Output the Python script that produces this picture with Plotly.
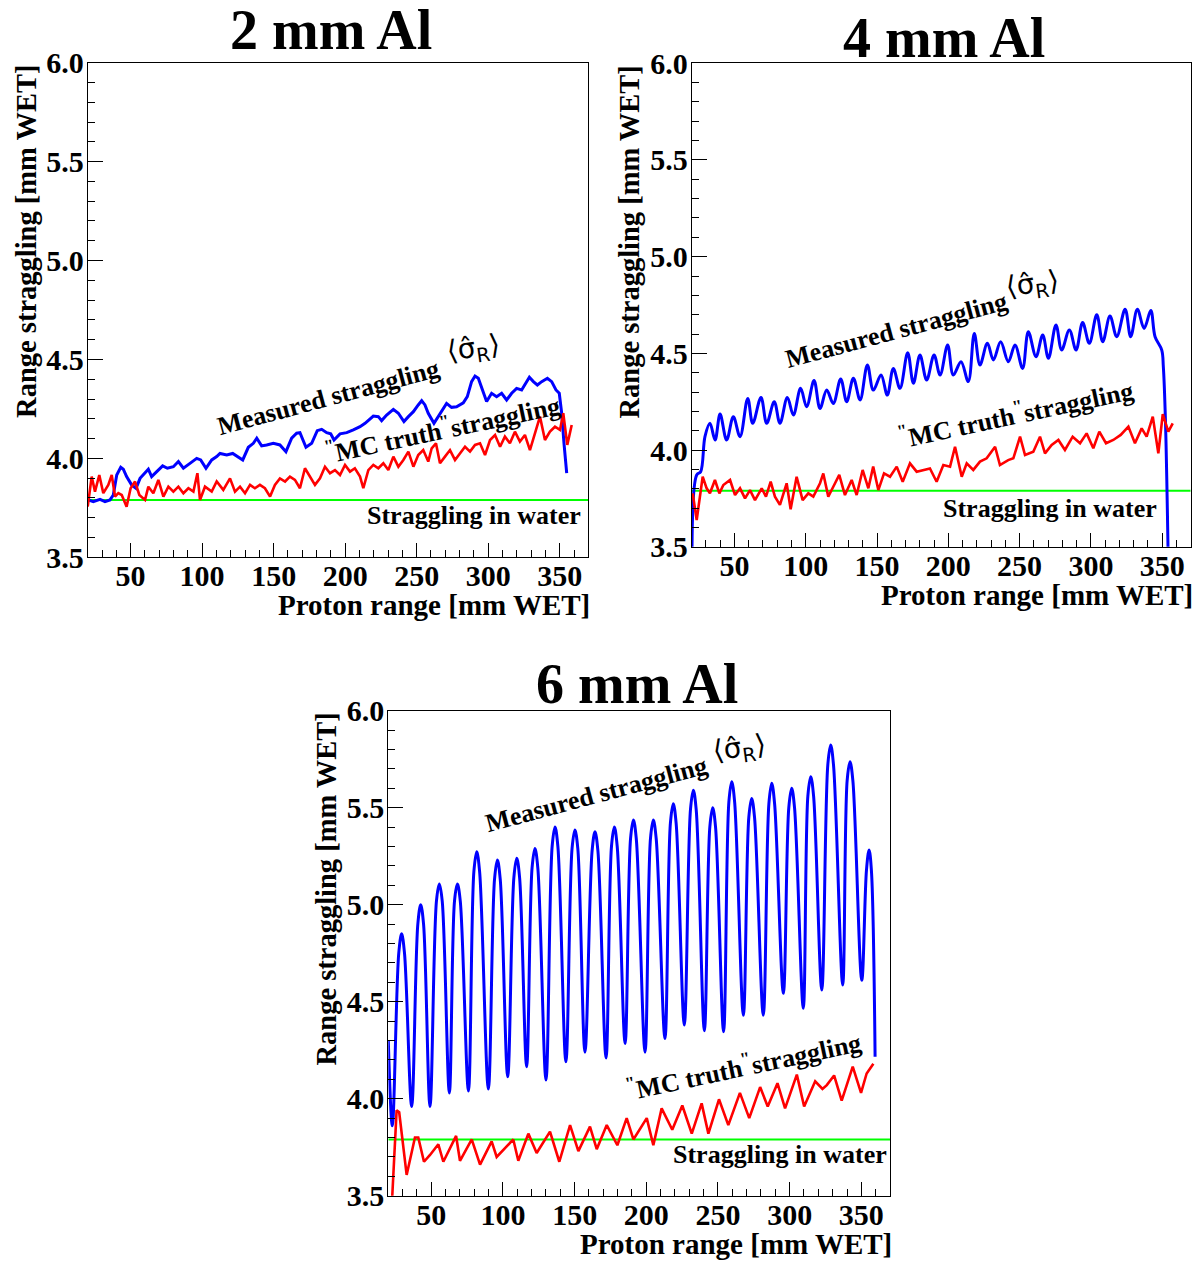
import plotly.graph_objects as go

# ---------------- data ----------------
panel_titles = ["2 mm Al", "4 mm Al", "6 mm Al"]
water_straggling = 3.79
x_ticks = [50, 100, 150, 200, 250, 300, 350]
y_ticks = [3.5, 4.0, 4.5, 5.0, 5.5, 6.0]

# 2 mm Al
al2_meas_x = [20.4, 23.9, 28.6, 32.1, 35.6, 37.9, 40.3, 43.1, 44.9, 47.2, 50.7, 53.8, 56.6, 58.9, 62.4, 64.7,
              68.2, 72.4, 75.7, 79.9, 83.4, 86.9, 91.5, 96.2, 99.0, 102.7, 106.7, 110.2, 112.5, 117.2, 121.4,
              125.3, 128.4, 132.3, 135.8, 138.2, 141.6, 145.1, 149.8, 154.4, 158.6, 162.6, 166.1, 168.4, 170.8,
              172.6, 176.6, 180.5, 183.6, 187.1, 189.9, 192.2, 196.4, 201.1, 205.7, 210.4, 213.9, 217.4, 219.7,
              223.2, 225.5, 229.0, 233.7, 237.2, 241.1, 244.2, 247.7, 251.1, 253.5, 255.8, 258.1, 262.1, 265.1,
              268.6, 270.9, 274.4, 277.9, 282.6, 285.4, 288.4, 290.8, 293.1, 295.4, 298.9, 302.4, 305.9, 309.4,
              312.9, 316.4, 319.9, 323.4, 328.8, 331.6, 334.4, 337.4, 341.4, 344.4, 347.4, 349.7, 351.4, 353.0,
              354.9]
al2_meas_y = [3.790, 3.781, 3.793, 3.781, 3.790, 3.815, 3.916, 3.955, 3.945, 3.908, 3.866, 3.849, 3.899, 3.916,
              3.945, 3.908, 3.933, 3.962, 3.950, 3.958, 3.984, 3.950, 3.975, 4.000, 3.992, 3.950, 3.992, 4.009,
              4.025, 4.017, 4.025, 4.009, 3.992, 4.056, 4.076, 4.102, 4.063, 4.068, 4.076, 4.068, 4.034, 4.102,
              4.127, 4.130, 4.085, 4.056, 4.076, 4.140, 4.147, 4.130, 4.124, 4.093, 4.124, 4.130, 4.144, 4.160,
              4.177, 4.197, 4.214, 4.211, 4.191, 4.219, 4.248, 4.228, 4.186, 4.211, 4.236, 4.270, 4.292, 4.270,
              4.228, 4.177, 4.211, 4.245, 4.278, 4.258, 4.261, 4.281, 4.312, 4.388, 4.416, 4.405, 4.354, 4.287,
              4.329, 4.312, 4.329, 4.295, 4.329, 4.354, 4.346, 4.410, 4.388, 4.371, 4.388, 4.405, 4.388, 4.346,
              4.329, 4.228, 4.076, 3.925]
al2_mc_x = [20.0, 22.8, 25.1, 28.1, 30.9, 34.4, 36.8, 39.1, 41.4, 43.8, 47.2, 50.0, 53.1, 56.1, 60.1, 62.4, 65.9,
            69.4, 72.9, 76.4, 79.9, 83.4, 86.9, 90.4, 93.9, 96.7, 98.5, 102.0, 106.7, 110.2, 114.8, 119.5, 123.0,
            126.5, 130.0, 133.5, 136.9, 140.4, 143.9, 147.5, 150.9, 154.4, 158.0, 161.4, 164.9, 168.4, 171.9,
            175.4, 178.9, 182.4, 185.9, 189.4, 192.9, 196.4, 199.9, 203.4, 206.8, 210.4, 212.7, 216.2, 219.7,
            223.2, 226.7, 230.2, 233.7, 237.2, 240.7, 244.2, 247.7, 251.1, 254.6, 258.1, 260.5, 263.5, 266.3,
            269.8, 273.3, 276.8, 280.3, 283.8, 287.3, 290.8, 294.3, 297.8, 301.3, 304.8, 308.3, 311.7, 315.2,
            318.7, 322.2, 325.7, 329.2, 332.7, 336.2, 339.7, 343.2, 346.7, 350.2, 352.5, 355.3, 358.4]
al2_mc_y = [3.756, 3.908, 3.832, 3.916, 3.824, 3.866, 3.916, 3.807, 3.824, 3.815, 3.756, 3.849, 3.883, 3.815,
            3.790, 3.857, 3.824, 3.891, 3.807, 3.857, 3.832, 3.857, 3.824, 3.849, 3.832, 3.925, 3.790, 3.857,
            3.832, 3.883, 3.841, 3.899, 3.832, 3.857, 3.824, 3.866, 3.849, 3.866, 3.849, 3.807, 3.866, 3.899,
            3.883, 3.908, 3.891, 3.849, 3.950, 3.908, 3.866, 3.899, 3.958, 3.925, 3.941, 3.916, 3.967, 3.933,
            3.950, 3.908, 3.849, 3.941, 3.967, 3.950, 3.975, 3.941, 4.009, 3.958, 3.992, 4.034, 3.958, 4.017,
            4.042, 3.984, 4.051, 4.076, 3.975, 4.009, 4.042, 3.992, 4.025, 4.059, 4.034, 4.068, 4.076, 4.017,
            4.093, 4.118, 4.059, 4.110, 4.076, 4.135, 4.085, 4.118, 4.042, 4.127, 4.211, 4.093, 4.135, 4.160,
            4.144, 4.228, 4.068, 4.169]

# 4 mm Al
al4_meas_x = [20.2, 23.5, 26.3, 29.3, 32.8, 36.4, 39.9, 44.5, 49.2, 53.9, 59.3, 62.8, 68.6, 72.6, 77.9, 81.9,
              87.1, 91.3, 96.4, 100.6, 105.8, 110.0, 114.7, 119.3, 124.5, 128.7, 133.4, 138.1, 143.2, 147.4,
              152.8, 157.2, 161.4, 166.1, 171.5, 175.5, 180.1, 184.8, 190.0, 194.2, 199.5, 203.5, 208.9, 214.0,
              218.2, 222.2, 227.4, 231.6, 236.7, 242.1, 246.8, 252.1, 256.1, 261.5, 266.2, 270.2, 275.5, 279.5,
              284.9, 289.6, 294.2, 298.9, 304.1, 308.3, 313.4, 318.1, 324.0, 327.9, 332.6, 337.3, 342.0, 345.0,
              349.7, 350.8, 352.3, 354.3]
al4_meas_y = [3.40, 3.871, 3.888, 4.069, 4.138, 4.052, 4.186, 4.052, 4.172, 4.069, 4.267, 4.138, 4.272, 4.138,
              4.250, 4.138, 4.272, 4.181, 4.319, 4.224, 4.359, 4.215, 4.310, 4.241, 4.367, 4.250, 4.371, 4.259,
              4.440, 4.310, 4.388, 4.284, 4.422, 4.319, 4.503, 4.345, 4.491, 4.362, 4.491, 4.388, 4.543, 4.388,
              4.457, 4.354, 4.603, 4.440, 4.552, 4.466, 4.560, 4.457, 4.543, 4.422, 4.612, 4.483, 4.595, 4.474,
              4.647, 4.517, 4.621, 4.517, 4.659, 4.552, 4.699, 4.560, 4.693, 4.586, 4.728, 4.586, 4.728, 4.629,
              4.721, 4.586, 4.517, 4.431, 4.150, 3.40]
al4_mc_x = [20.7, 23.5, 27.7, 30.5, 32.8, 36.3, 39.4, 42.2, 46.9, 50.4, 53.9, 57.4, 60.9, 64.4, 69.1, 72.1, 75.4,
            78.4, 81.9, 86.6, 89.4, 93.6, 97.8, 101.8, 105.3, 110.0, 112.3, 115.8, 119.3, 123.5, 127.5, 132.2,
            135.7, 139.9, 143.9, 147.3, 150.9, 154.9, 159.1, 163.8, 168.0, 173.1, 177.8, 182.5, 187.1, 191.8,
            196.5, 201.2, 204.7, 209.4, 212.9, 217.5, 222.2, 226.9, 232.8, 236.2, 242.0, 245.6, 250.3, 253.8,
            259.6, 264.3, 267.8, 272.5, 277.2, 281.8, 287.2, 292.4, 297.0, 301.7, 305.9, 310.6, 315.7, 320.9,
            326.3, 330.9, 335.6, 339.1, 343.4, 347.3, 350.4, 354.3, 357.4]
al4_mc_y = [3.776, 3.638, 3.862, 3.802, 3.776, 3.845, 3.776, 3.819, 3.845, 3.767, 3.802, 3.750, 3.793, 3.741,
            3.802, 3.759, 3.836, 3.759, 3.716, 3.828, 3.694, 3.862, 3.741, 3.776, 3.759, 3.828, 3.879, 3.759,
            3.810, 3.871, 3.767, 3.845, 3.767, 3.897, 3.802, 3.914, 3.793, 3.879, 3.862, 3.914, 3.836, 3.931,
            3.888, 3.897, 3.905, 3.836, 3.922, 3.914, 4.017, 3.862, 3.931, 3.897, 3.940, 3.957, 4.017, 3.922,
            3.948, 3.957, 4.069, 3.974, 3.991, 4.069, 3.983, 4.026, 4.052, 4.000, 4.069, 4.035, 4.086, 4.009,
            4.095, 4.035, 4.052, 4.078, 4.121, 4.035, 4.112, 4.069, 4.173, 3.983, 4.186, 4.095, 4.138]

# 6 mm Al
al6_meas_x = [20.0, 22.8,
              27.3, 29.3, 31.3, 36.3, 40.6, 42.6, 44.6, 49.1, 53.6, 55.6, 57.6, 62.6, 66.2, 68.2, 70.2, 75.9,
              79.7, 81.7, 83.7, 89.8, 94.1, 96.1, 98.1, 103.3, 107.6, 109.6, 111.6, 116.5, 120.3, 122.3, 124.3,
              130.0, 134.3, 136.3, 138.3, 143.9, 148.2, 150.2, 152.2, 157.2, 162.2, 164.2, 166.2, 171.9, 175.7,
              177.7, 179.7, 185.2, 189.0, 191.0, 193.0, 199.1, 202.9, 204.9, 206.9, 213.0, 216.8, 218.8, 220.8,
              226.5, 230.8, 232.8, 234.8, 240.5, 244.3, 246.3, 248.3, 253.9, 257.6, 259.6, 261.6, 267.7, 271.5,
              273.5, 275.5, 281.6, 285.5, 287.5, 289.5, 295.6, 299.4, 301.4, 303.4, 309.5, 312.7, 314.7, 316.7,
              322.4, 326.6, 328.6, 330.6, 337.0, 340.1, 342.1, 344.1, 350.3, 353.6, 355.4, 357.0, 359.6]
al6_meas_y = [4.30, 3.86,
              4.75, 4.85, 4.75, 3.96, 4.90, 5.00, 4.90, 3.96, 5.02, 5.107, 5.02, 4.03, 5.02, 5.107, 5.02, 4.04,
              5.17, 5.273, 5.17, 4.05, 5.13, 5.23, 5.13, 4.113, 5.14, 5.24, 5.14, 4.165, 5.19, 5.29, 5.19,
              4.096, 5.30, 5.40, 5.30, 4.19, 5.29, 5.385, 5.29, 4.24, 5.28, 5.376, 5.28, 4.21, 5.30,
              5.40, 5.30, 4.285, 5.34, 5.436, 5.34, 4.24, 5.34, 5.436, 5.34, 4.31, 5.42, 5.52, 5.42,
              4.38, 5.49, 5.59, 5.49, 4.35, 5.40, 5.50, 5.40, 4.345, 5.53, 5.634, 5.53, 4.43, 5.45,
              5.548, 5.45, 4.43, 5.52, 5.626, 5.52, 4.543, 5.50, 5.60, 5.50, 4.466, 5.56, 5.66, 5.56,
              4.56, 5.72, 5.823, 5.72, 4.586, 5.64, 5.737, 5.64, 4.61, 5.18, 5.282, 5.18, 4.216]
al6_mc_x = [21.2, 22.3, 25.8, 27.6, 32.8, 38.6, 40.9, 44.9, 49.1, 54.9, 58.4, 67.3, 70.0, 78.2, 84.0, 92.1, 95.6,
            107.2, 110.7, 117.7, 123.5, 132.8, 139.3, 146.8, 152.6, 160.7, 165.4, 172.4, 179.8, 186.3, 191.0,
            200.3, 204.9, 210.7, 218.1, 225.1, 231.7, 238.6, 243.3, 250.7, 257.2, 265.3, 271.8, 279.4, 284.7,
            291.5, 296.8, 305.0, 310.1, 317.8, 322.9, 325.9, 331.0, 336.3, 344.0, 349.8, 353.7, 358.4]
al6_mc_y = [3.20, 3.43, 3.94, 3.93, 3.607, 3.80, 3.80, 3.675, 3.71, 3.765, 3.675, 3.808, 3.68, 3.79, 3.66, 3.78,
            3.70, 3.79, 3.68, 3.82, 3.72, 3.83, 3.675, 3.864, 3.73, 3.856, 3.74, 3.864, 3.76, 3.90, 3.79, 3.90,
            3.76, 3.95, 3.84, 3.965, 3.82, 3.976, 3.82, 3.997, 3.864, 4.03, 3.90, 4.06, 3.96, 4.08, 3.95, 4.124,
            3.96, 4.09, 4.05, 4.07, 4.12, 3.99, 4.165, 4.03, 4.13, 4.18]

# ---------------- figure ----------------
W, H = 1200, 1261
OFF = 8  # page body offset compensation (px)
SERIF = "Liberation Serif"
BLUE, RED, GREEN = "#0000ff", "#ff0000", "#00ff00"


def px_x(px):
    return (px - OFF) / W


def px_y(py):
    return 1 - (py - OFF) / H


# plot frames in target pixels: (left, right, top, bottom)
frames = [(87.7, 588.3, 62.7, 557.3), (691.7, 1190.7, 63.3, 546.7), (388.3, 890.0, 710.7, 1195.7)]

fig = go.Figure()
layout = dict(width=W, height=H, margin=dict(l=0, r=0, t=0, b=0, pad=0, autoexpand=False),
              paper_bgcolor="white", plot_bgcolor="white", showlegend=False)

meas = [(al2_meas_x, al2_meas_y, "linear"), (al4_meas_x, al4_meas_y, "spline"), (al6_meas_x, al6_meas_y, "spline")]
mc = [(al2_mc_x, al2_mc_y), (al4_mc_x, al4_mc_y), (al6_mc_x, al6_mc_y)]

annotations = []
for i, (l, r, t, b) in enumerate(frames):
    sfx = "" if i == 0 else str(i + 1)
    xa, ya = "x" + sfx, "y" + sfx
    layout["xaxis" + sfx] = dict(
        domain=[px_x(l), px_x(r)], anchor=ya, range=[20, 370], tickvals=x_ticks, ticks="inside", ticklen=14,
        tickcolor="black", showline=True, linecolor="black", linewidth=1, mirror=True, showgrid=False,
        zeroline=False, automargin=False, ticklabelstandoff=-8,
        tickfont=dict(family=SERIF, size=30, color="black", weight="bold"),
        minor=dict(ticks="inside", dtick=10, tick0=0, ticklen=7, tickcolor="black", showgrid=False))
    layout["yaxis" + sfx] = dict(
        domain=[px_y(b), px_y(t)], anchor=xa, range=[3.5, 6.0], tickvals=y_ticks, tickformat=".1f",
        ticks="inside", ticklen=15, tickcolor="black", showline=True, linecolor="black", linewidth=1,
        mirror=True, showgrid=False, zeroline=False, automargin=False, ticklabelstandoff=-3,
        tickfont=dict(family=SERIF, size=30, color="black", weight="bold"),
        minor=dict(ticks="inside", dtick=0.1, tick0=0, ticklen=7, tickcolor="black", showgrid=False))

    # water line
    fig.add_trace(go.Scatter(x=[20, 370], y=[water_straggling, water_straggling], mode="lines",
                             line=dict(color=GREEN, width=2), xaxis=xa, yaxis=ya, hoverinfo="skip"))
    mx, my, shp = meas[i]
    fig.add_trace(go.Scatter(x=mx, y=my, mode="lines",
                             line=dict(color=BLUE, width=3, shape=shp, smoothing=1.0),
                             xaxis=xa, yaxis=ya, cliponaxis=True))
    cx, cy = mc[i]
    fig.add_trace(go.Scatter(x=cx, y=cy, mode="lines", line=dict(color=RED, width=2.6),
                             xaxis=xa, yaxis=ya, cliponaxis=True))

    # axis titles
    annotations.append(dict(text="<b>Proton range [mm WET]</b>", xref="paper", yref="paper",
                            x=px_x(r + 4), y=px_y(b + 48), xanchor="right", yanchor="middle",
                            showarrow=False, font=dict(family=SERIF, size=29, color="black")))
    annotations.append(dict(text="<b>Range straggling [mm WET]</b>", xref="paper", yref="paper",
                            x=px_x(l - 62), y=px_y(t), xanchor="center", yanchor="top", textangle=-90,
                            showarrow=False, font=dict(family=SERIF, size=28.5, color="black")))

# panel titles
title_pos = [(331, 30), (944, 38), (637, 684)]
for txt, (px, py) in zip(panel_titles, title_pos):
    annotations.append(dict(text="<b>%s</b>" % txt, xref="paper", yref="paper", x=px_x(px), y=px_y(py),
                            xanchor="center", yanchor="middle", showarrow=False,
                            font=dict(family=SERIF, size=56, color="black")))

# curve labels (data coordinates)
label_pos = [
    # (measured x,y), (sigma x,y), (mc x,y), (water x,y)
    ((188, 4.31), (290, 4.55), (268, 4.15), (366, 3.71)),
    ((163, 4.62), (259, 4.85), (247, 4.19), (348, 3.70)),
    ((165, 5.57), (265, 5.80), (268, 4.17), (369, 3.71)),
]
for i, (m, s, c, w) in enumerate(label_pos):
    sfx = "" if i == 0 else str(i + 1)
    xa, ya = "x" + sfx, "y" + sfx
    annotations.append(dict(text="<b>Measured straggling</b>", xref=xa, yref=ya, x=m[0], y=m[1],
                            textangle=-15, showarrow=False, font=dict(family=SERIF, size=26, color="black")))
    annotations.append(dict(text="\u27e8\u03c3\u0302<sub>R</sub>\u27e9", xref=xa, yref=ya, x=s[0], y=s[1],
                            textangle=-8, showarrow=False, font=dict(family="DejaVu Sans", size=28, color="black")))
    annotations.append(dict(text="<b><sup>\"</sup>MC truth<sup>\"</sup>straggling</b>", xref=xa, yref=ya,
                            x=c[0], y=c[1], textangle=-12, showarrow=False,
                            font=dict(family=SERIF, size=26, color="black")))
    annotations.append(dict(text="<b>Straggling in water</b>", xref=xa, yref=ya, x=w[0], y=w[1],
                            xanchor="right", yanchor="middle", showarrow=False,
                            font=dict(family=SERIF, size=26, color="black")))

layout["annotations"] = annotations
fig.update_layout(**layout)
fig.write_html("out.html")
